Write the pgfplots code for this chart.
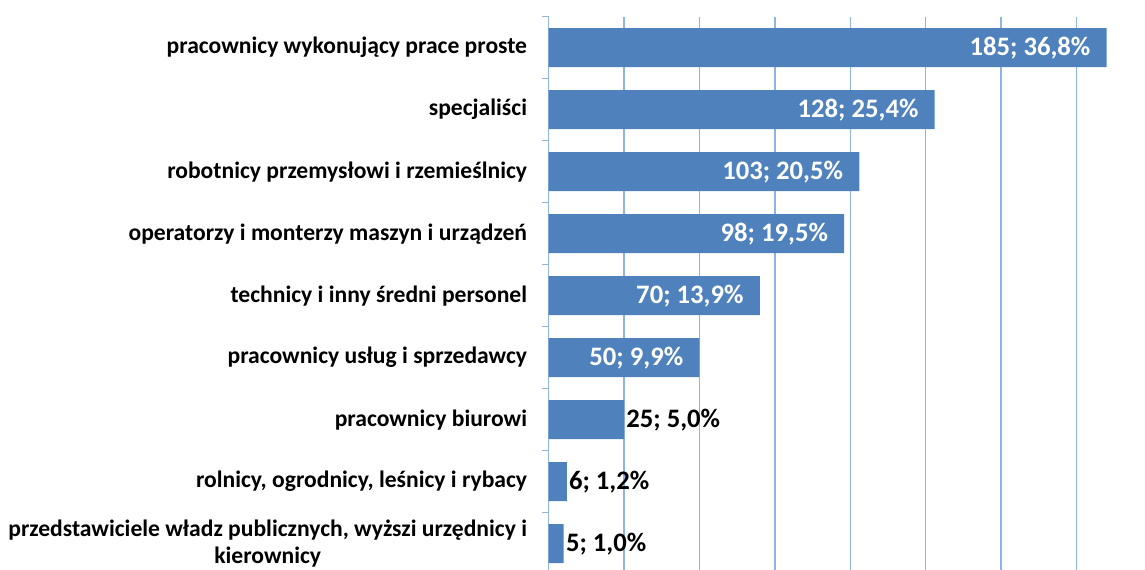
\documentclass[border=0pt]{standalone}
\usepackage{pgfplots}
\usepackage{pgfplotstable}
\pgfplotsset{compat=1.18}
\usepackage{fontspec}
\setmainfont{Carlito}
\definecolor{barblue}{HTML}{4F81BD}
\definecolor{gridblue}{HTML}{8EB4E3}

\pgfplotstableread{
idx n pct
0 185 36.8
1 128 25.4
2 103 20.5
3 98 19.5
4 70 13.9
5 50 9.9
}\insidetable
\pgfplotstableread{
idx n pct
6 25 5.0
7 6 1.2
8 5 1.0
}\outsidetable

\begin{document}
\begin{tikzpicture}
\begin{axis}[
  at={(411.5pt,-12.5pt)}, anchor=north west,
  scale only axis, width=452.4pt, height=418.5pt,
  xmin=0, xmax=200, ymin=-0.5, ymax=8.5, y dir=reverse,
  axis lines*=left, separate axis lines,
  x axis line style={draw=none},
  y axis line style={draw=gridblue, line width=1.1pt},
  xtick={0,25,...,200}, xticklabels={},
  xmajorgrids, grid style={draw=gridblue, line width=1.1pt},
  ytick={0,...,8},
  minor ytick={-0.5,0.5,...,8.5},
  major tick length=0pt, minor tick length=5.25pt, tick align=outside,
  minor tick style={draw=gridblue, line width=1.1pt},
  yticklabels={pracownicy wykonujący prace proste, specjaliści, robotnicy przemysłowi i rzemieślnicy, operatorzy i monterzy maszyn i urządzeń, technicy i inny średni personel, pracownicy usług i sprzedawcy, pracownicy biurowi, {rolnicy, ogrodnicy, leśnicy i rybacy}, {przedstawiciele władz publicznych, wyższi urzędnicy i\\kierownicy}},
  yticklabel style={font=\fontsize{17.7}{20.5}\selectfont\bfseries, align=center, inner sep=0pt, xshift=-16pt},
  point meta=x,
  visualization depends on={\thisrow{pct}\as\pct},
  nodes near coords={\pgfmathprintnumber[assume math mode=true]{\pgfplotspointmeta}; \pgfmathprintnumber[fixed,fixed zerofill,precision=1,use comma,assume math mode=true]{\pct}\%},
]
\addplot[xbar, bar shift=0pt, bar width=29.25pt, fill=barblue, draw=none,
  every node near coord/.append style={anchor=east, text=white, inner sep=0pt, xshift=-12pt, font=\fontsize{20}{22}\selectfont\bfseries}]
  table[x=n, y=idx] {\insidetable};
\addplot[xbar, bar shift=0pt, bar width=29.25pt, fill=barblue, draw=none,
  every node near coord/.append style={anchor=west, text=black, inner sep=0pt, xshift=1.5pt, font=\fontsize{20}{22}\selectfont\bfseries}]
  table[x=n, y=idx] {\outsidetable};
\end{axis}
\pgfresetboundingbox
\path[use as bounding box] (0pt,0pt) rectangle (858.75pt,-427.5pt);
\end{tikzpicture}
\end{document}
